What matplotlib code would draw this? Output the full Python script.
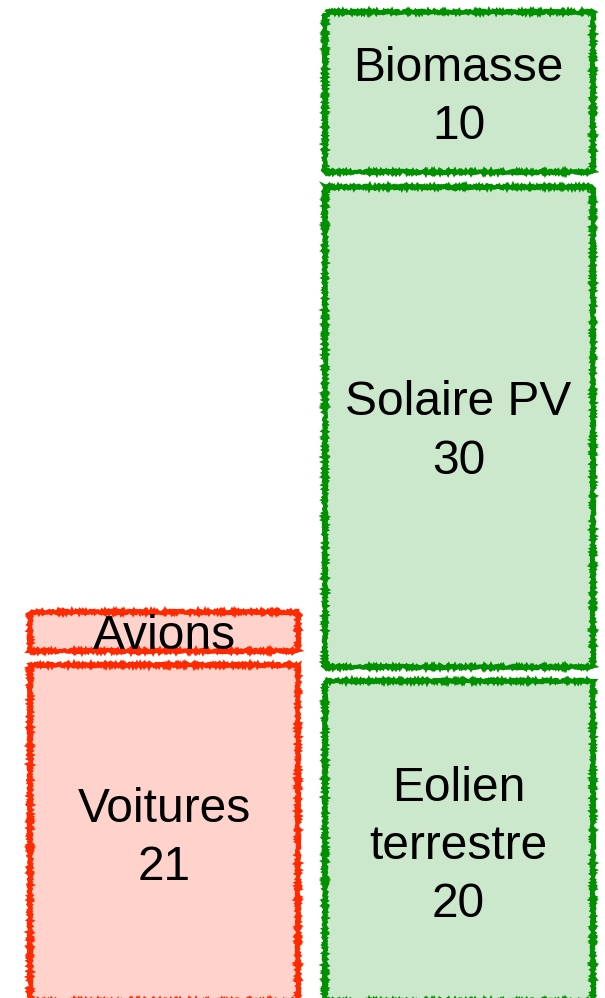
import matplotlib
matplotlib.use("Agg")
import matplotlib.pyplot as plt

# ----- data -----
left_names = ["Voitures", "Avions"]
left_values = [21, 2.4]
right_names = ["Eolien\nterrestre", "Solaire PV", "Biomasse"]
right_values = [20, 30, 10]

red_fill = "#ffd3cb"
red_edge = "#ff2a00"
green_fill = "#cce8cc"
green_edge = "#009000"

gap = 0.9      # blank space between stacked blocks
width = 0.91

fig = plt.figure(figsize=(6.05, 9.98), dpi=100)
ax = fig.add_axes([0, 0, 1, 1])
ax.set_xlim(-0.557, 1.497)
ax.set_ylim(0.2, 62.58)
ax.axis("off")


def stack(x, names, values, fill, edge):
    bottom = 0
    for name, v in zip(names, values):
        bars = ax.bar(x, v, bottom=bottom, width=width, color=fill,
                      edgecolor=edge, linewidth=3.0, align="center")
        for p in bars:
            p.set_sketch_params(1.2, 2, 2)
        label = name if v < 5 else f"{name}\n{v}"
        ax.text(x, bottom + v / 2 - 0.32, label, ha="center", va="center",
                fontsize=34.5, family="Liberation Sans", linespacing=1.38)
        bottom += v + gap


stack(0, left_names, left_values, red_fill, red_edge)
stack(1, right_names, right_values, green_fill, green_edge)

fig.savefig("out.png", dpi=100)
